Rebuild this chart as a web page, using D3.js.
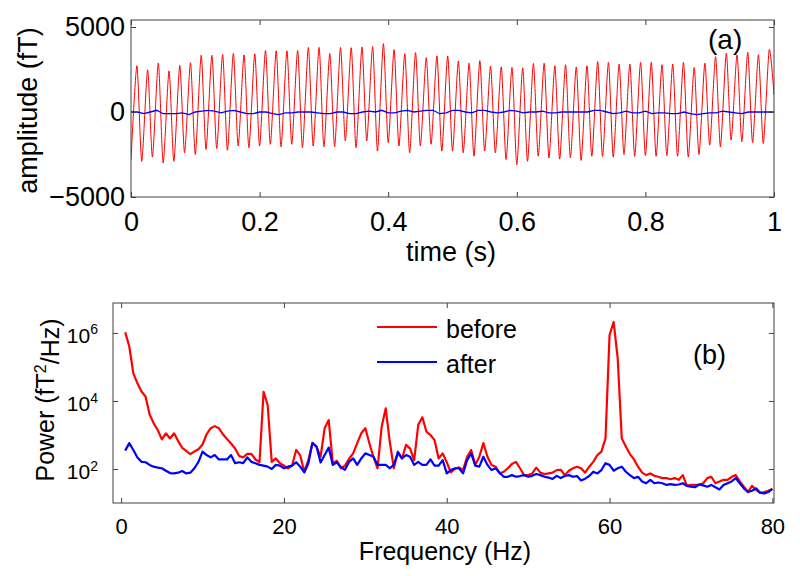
<!DOCTYPE html>
<html>
<head>
<meta charset="utf-8">
<script src="https://cdn.jsdelivr.net/npm/d3@7"></script>
<style>
  body { margin: 0; background: #fff; }
  svg text { font-family: "Liberation Sans", Arial, Helvetica, sans-serif; fill: #000; }
</style>
</head>
<body>
<div id="chart"></div>
<script>
// ---- data: panel (a), 60 Hz interference, one peak and one trough per cycle (fT)
var mainsHz = 60;
var troughsBefore = [-2800,-2900,-2650,-3000,-2900,-2400,-2500,-2200,-2150,-2250,
  -2000,-2100,-2000,-1900,-2050,-1900,-2100,-2000,-2050,-2050,
  -1700,-2100,-1700,-2300,-1800,-2000,-2400,-2000,-1900,-2300,
  -2300,-2400,-2600,-2300,-2400,-2800,-3100,-2900,-2600,-2700,
  -2770,-2700,-2850,-2600,-2620,-2650,-2500,-2620,-2560,-2600,
  -2570,-2600,-2650,-2500,-1950,-2050,-1650,-1750,-1800,-1850];
var peaksBefore = [2720,2480,2880,2420,2740,2900,3340,3330,3390,3450,
  3360,3420,3620,3600,3600,3620,3800,3800,3450,3800,
  3780,3820,3850,4020,3670,3430,3500,3200,3300,3300,
  3000,2870,3020,2700,2650,2630,2600,2860,2870,2720,
  2780,2650,2720,2970,2920,2820,2820,2920,2920,2780,
  2820,2920,2620,2870,3260,3460,3360,3510,3370,3650];
var endBefore = 1000;
// residual after removal, sampled every 10 ms (fT)
var residualAfter = [0,0,-100,0,100,-100,-100,-100,-50,-150,
  0,50,100,50,-50,50,100,0,-100,-100,
  0,0,-100,-150,-50,-50,0,0,0,-50,
  -100,-100,0,0,-100,-100,0,50,0,100,
  -50,-50,50,100,0,50,100,100,-100,-50,
  100,100,0,-50,100,100,0,-50,0,100,
  50,-50,0,0,50,-50,-50,0,0,0,
  0,0,100,100,0,-100,-50,50,-50,-50,
  50,-100,-50,-50,-100,-100,0,-100,-150,-100,
  -50,-50,50,0,-50,-100,0,0,0,0,0];

// ---- data: panel (b), power spectra on a 0.5 Hz grid from 0.5 to 80 Hz (fT^2/Hz)
var freqStep = 0.5;
var powerBefore = [1.05e6,4.0e5,6.5e4,3.3e4,1.9e4,1.35e4,4000,2200,1400,740,
  1120,790,1120,660,420,340,275,325,380,525,
  1050,1580,1820,1580,1050,760,560,400,240,220,
  280,280,190,160,18600,7600,162,204,148,126,
  105,126,363,251,83,182,589,457,229,1580,
  2750,148,174,105,126,200,288,575,1120,1580,
  562,224,105,1740,6030,631,105,324,204,513,
  398,182,2000,3310,1260,1000,708,204,288,158,
  79,100,112,93,229,363,132,229,575,229,
  132,117,74,83,105,141,162,105,66,66,
  74,110,78,71,74,78,93,95,66,89,
  105,117,105,78,117,162,257,324,794,8.7e5,
  2.1e6,1.8e5,794,457,275,191,117,78,66,74,
  63,59,54,54,50,54,48,66,32,34,
  34,35,38,54,59,38,43,48,48,59,
  66,43,30,21,32,24,20,21,23,26];
var powerAfter = [347,575,363,219,162,158,132,117,110,105,
  89,76,74,78,87,74,78,105,162,324,
  257,219,257,191,191,191,257,148,158,148,
  219,162,148,132,126,117,100,132,126,105,
  117,126,158,117,79,148,575,457,155,257,
  427,132,158,112,95,162,204,132,204,288,
  257,229,132,132,132,105,132,302,204,257,
  229,132,162,132,132,191,126,126,182,74,
  93,105,105,74,182,288,126,117,229,132,
  93,105,78,59,59,66,59,62,66,59,
  63,71,66,59,56,51,63,54,62,66,
  59,62,46,52,62,83,74,93,148,132,
  89,105,117,83,66,54,59,43,38,48,
  38,40,38,34,36,34,35,38,32,30,
  29,35,33,30,34,29,25,34,38,43,
  54,38,27,21,23,27,20,19,21,26];

var legendLabels = ["before", "after"];
var seriesColors = ["#ff0000", "#0000ff"];

var svg = d3.select("#chart").append("svg")
.attr("width", 800)
.attr("height", 576);

var frameColor = "#404040";

// ================= panel (a) =================
var boxA = {left: 131, right: 774, top: 20, bottom: 197};
var xA = d3.scaleLinear().domain([0, 1]).range([boxA.left, boxA.right]);
var yA = d3.scaleLinear().domain([-5000, 5000]).range([197, 27]);

// build the waveform points: trough at start of each cycle, peak just past mid cycle
var waveBefore = [];
troughsBefore.forEach(function(v, i) {
  waveBefore.push({t: i / mainsHz, v: v});
  waveBefore.push({t: (i + 0.55) / mainsHz, v: peaksBefore[i]});
});
waveBefore.push({t: 1, v: endBefore});

var waveAfter = residualAfter.map(function(v, i) { return {t: i / (residualAfter.length - 1), v: v}; });

svg.append("clipPath").attr("id", "clipA")
.append("rect")
.attr("x", boxA.left).attr("y", boxA.top)
.attr("width", boxA.right - boxA.left).attr("height", boxA.bottom - boxA.top);

var lineA = d3.line()
.x(function(d) { return xA(d.t); })
.y(function(d) { return yA(d.v); });

svg.append("path")
.datum(waveBefore)
.attr("clip-path", "url(#clipA)")
.attr("fill", "none")
.attr("stroke", seriesColors[0])
.attr("stroke-width", 1)
.attr("d", lineA.curve(d3.curveCardinal.tension(0.3)));

svg.append("path")
.datum(waveAfter)
.attr("clip-path", "url(#clipA)")
.attr("fill", "none")
.attr("stroke", seriesColors[1])
.attr("stroke-width", 1.3)
.attr("d", lineA.curve(d3.curveLinear));

// axes (inward ticks, MATLAB style box)
var fontA = 27;
svg.append("g")
.attr("transform", "translate(0," + boxA.bottom + ")")
.call(d3.axisBottom(xA).tickValues([0, 0.2, 0.4, 0.6, 0.8, 1]).tickSize(-5).tickFormat(d3.format("")))
.call(function(g) {
  g.select(".domain").remove();
  g.selectAll(".tick line").attr("stroke", frameColor);
  g.selectAll(".tick text").attr("font-size", fontA).attr("dy", "0.71em").attr("y", 15);
});
svg.append("g")
.attr("transform", "translate(0," + boxA.top + ")")
.call(d3.axisTop(xA).tickValues([0, 0.2, 0.4, 0.6, 0.8, 1]).tickSize(-5).tickFormat(""))
.call(function(g) { g.select(".domain").remove(); g.selectAll(".tick line").attr("stroke", frameColor); });
svg.append("g")
.attr("transform", "translate(" + boxA.left + ",0)")
.call(d3.axisLeft(yA).tickValues([-5000, 0, 5000]).tickSize(-5).tickPadding(6).tickFormat(function(d) { return d < 0 ? "\u22125000" : d; }))
.call(function(g) {
  g.select(".domain").remove();
  g.selectAll(".tick line").attr("stroke", frameColor);
  g.selectAll(".tick text").attr("font-size", fontA);
});
svg.append("g")
.attr("transform", "translate(" + boxA.right + ",0)")
.call(d3.axisRight(yA).tickValues([-5000, 0, 5000]).tickSize(-5).tickFormat(""))
.call(function(g) { g.select(".domain").remove(); g.selectAll(".tick line").attr("stroke", frameColor); });

svg.append("rect")
.attr("x", boxA.left).attr("y", boxA.top)
.attr("width", boxA.right - boxA.left).attr("height", boxA.bottom - boxA.top)
.attr("fill", "none").attr("stroke", frameColor).attr("stroke-width", 1);

svg.append("text")
.attr("x", 451)
.attr("y", 261)
.attr("text-anchor", "middle")
.attr("font-size", fontA)
.text("time (s)");

svg.append("text")
.attr("transform", "translate(37," + ((boxA.top + boxA.bottom) / 2 + 2) + ") rotate(-90)")
.attr("text-anchor", "middle")
.attr("font-size", fontA)
.text("amplitude (fT)");

svg.append("text")
.attr("x", 708).attr("y", 49)
.attr("font-size", 28)
.text("(a)");

// ================= panel (b) =================
var boxB = {left: 113, right: 774, top: 303, bottom: 503};
var xB = d3.scaleLinear().domain([-1, 80.2]).range([boxB.left, boxB.right]);
var yB = d3.scaleLog().domain([10, Math.pow(10, 6.88)]).range([boxB.bottom, boxB.top]);

svg.append("clipPath").attr("id", "clipB")
.append("rect")
.attr("x", boxB.left).attr("y", boxB.top)
.attr("width", boxB.right - boxB.left).attr("height", boxB.bottom - boxB.top);

var lineB = d3.line()
.x(function(d, i) { return xB((i + 1) * freqStep); })
.y(function(d) { return yB(d); });

[powerBefore, powerAfter].forEach(function(series, k) {
  svg.append("path")
  .datum(series)
  .attr("clip-path", "url(#clipB)")
  .attr("fill", "none")
  .attr("stroke", seriesColors[k])
  .attr("stroke-width", 2.2)
  .attr("stroke-linejoin", "round")
  .attr("d", lineB);
});

var fontBTick = 22;
var fontBLabel = 25;
svg.append("g")
.attr("transform", "translate(0," + boxB.bottom + ")")
.call(d3.axisBottom(xB).tickValues([0, 20, 40, 60, 80]).tickSize(-5))
.call(function(g) {
  g.select(".domain").remove();
  g.selectAll(".tick line").attr("stroke", frameColor);
  g.selectAll(".tick text").attr("font-size", fontBTick).attr("y", 15);
});
svg.append("g")
.attr("transform", "translate(0," + boxB.top + ")")
.call(d3.axisTop(xB).tickValues([0, 20, 40, 60, 80]).tickSize(-5).tickFormat(""))
.call(function(g) { g.select(".domain").remove(); g.selectAll(".tick line").attr("stroke", frameColor); });

var yTicksB = [1e2, 1e4, 1e6];
var yAxisB = svg.append("g")
.attr("transform", "translate(" + boxB.left + ",0)")
.call(d3.axisLeft(yB).tickValues(yTicksB).tickSize(-5).tickFormat(""))
.call(function(g) { g.select(".domain").remove(); g.selectAll(".tick line").attr("stroke", frameColor); });
// power-of-ten labels with superscript exponent
yAxisB.selectAll(".tick").append("text")
.attr("x", -15)
.attr("dy", "0.45em")
.attr("text-anchor", "end")
.attr("font-size", 21)
.each(function(d) {
  var t = d3.select(this);
  t.append("tspan").text("10");
  t.append("tspan").attr("dy", "-0.6em").attr("font-size", 14).text(Math.round(Math.log10(d)));
});
svg.append("g")
.attr("transform", "translate(" + boxB.right + ",0)")
.call(d3.axisRight(yB).tickValues(yTicksB).tickSize(-5).tickFormat(""))
.call(function(g) { g.select(".domain").remove(); g.selectAll(".tick line").attr("stroke", frameColor); });

svg.append("rect")
.attr("x", boxB.left).attr("y", boxB.top)
.attr("width", boxB.right - boxB.left).attr("height", boxB.bottom - boxB.top)
.attr("fill", "none").attr("stroke", frameColor).attr("stroke-width", 1);

svg.append("text")
.attr("x", 445)
.attr("y", 560)
.attr("text-anchor", "middle")
.attr("font-size", fontBLabel)
.text("Frequency (Hz)");

var powerLabel = svg.append("text")
.attr("transform", "translate(54," + ((boxB.top + boxB.bottom) / 2 - 3) + ") rotate(-90)")
.attr("text-anchor", "middle")
.attr("font-size", fontBLabel);
powerLabel.append("tspan").text("Power (fT");
powerLabel.append("tspan").attr("dy", "-0.5em").attr("font-size", 16).text("2");
powerLabel.append("tspan").attr("dy", "0.5em").text("/Hz)");

svg.append("text")
.attr("x", 693).attr("y", 364)
.attr("font-size", 27)
.text("(b)");

// legend
var legend = svg.append("g").attr("class", "legend");
legendLabels.forEach(function(label, i) {
  var ly = 327 + i * 35;
  legend.append("line")
  .attr("x1", 377).attr("x2", 437)
  .attr("y1", ly).attr("y2", ly)
  .attr("stroke", seriesColors[i])
  .attr("stroke-width", 2.2);
  legend.append("text")
  .attr("x", 446).attr("y", ly + 11)
  .attr("font-size", 25)
  .text(label);
});
</script>
</body>
</html>
